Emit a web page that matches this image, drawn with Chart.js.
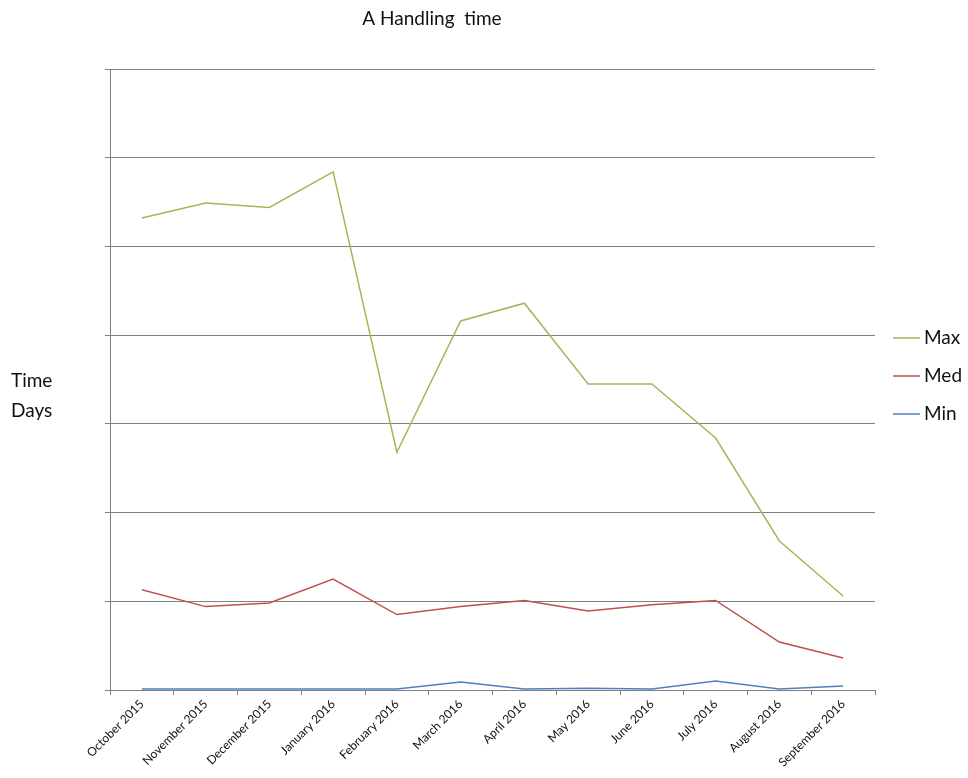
<!DOCTYPE html>
<html>
<head>
<meta charset="utf-8">
<script src="https://cdn.jsdelivr.net/npm/chart.js@4/dist/chart.umd.min.js"></script>
<style>
  html, body { margin: 0; padding: 0; background: #ffffff; }
  #wrap { width: 968px; height: 778px; position: relative; }
</style>
</head>
<body>
<div id="wrap"><canvas id="chart"></canvas></div>
<script>
// Monthly handling time in days
const months = ["October 2015", "November 2015", "December 2015", "January 2016", "February 2016", "March 2016",
                "April 2016", "May 2016", "June 2016", "July 2016", "August 2016", "September 2016"];
const maxDays = [53.2, 54.9, 54.4, 58.4, 26.8, 41.6, 43.6, 34.5, 34.5, 28.4, 16.8, 10.6];
const medDays = [11.3, 9.4, 9.8, 12.5, 8.5, 9.4, 10.1, 8.9, 9.6, 10.1, 5.4, 3.6];
const minDays = [0.1, 0.1, 0.1, 0.1, 0.1, 0.9, 0.1, 0.2, 0.1, 1.0, 0.1, 0.45];
const chartTitle = "A Handling  time";
const axisTitleLines = ["Time", "Days"];

const FONT = "Lato, 'Open Sans', sans-serif";
const GRID = "#808080";

// Title, vertical-axis caption and right-hand legend
const decorations = {
  id: "decorations",
  afterDraw(chart) {
    const ctx = chart.ctx;
    ctx.save();
    ctx.fillStyle = "#111111";
    ctx.textBaseline = "middle";
    ctx.font = "19px " + FONT;
    ctx.textAlign = "center";
    ctx.fillText(chartTitle, 432, 19);

    ctx.font = "19px " + FONT;
    ctx.textAlign = "left";
    axisTitleLines.forEach((t, i) => ctx.fillText(t, 11, 381 + i * 30));

    chart.data.datasets.forEach((ds, i) => {
      const y = 338 + i * 38;
      ctx.strokeStyle = ds.borderColor;
      ctx.lineWidth = 1.5;
      ctx.beginPath();
      ctx.moveTo(893, y);
      ctx.lineTo(920, y);
      ctx.stroke();
      ctx.fillStyle = "#111111";
      ctx.fillText(ds.label, 924, y);
    });
    ctx.restore();
  }
};

new Chart(document.getElementById("chart"), {
  type: "line",
  data: {
    labels: months,
    datasets: [
      { label: "Max", data: maxDays, borderColor: "#9BBB59" },
      { label: "Med", data: medDays, borderColor: "#C0504D" },
      { label: "Min", data: minDays, borderColor: "#4F81BD" }
    ]
  },
  options: {
    responsive: true,
    maintainAspectRatio: false,
    animation: false,
    elements: {
      line: { borderWidth: 1.5, tension: 0, fill: false },
      point: { radius: 0, hoverRadius: 0 }
    },
    layout: { padding: { left: 104, right: 93, top: 69, bottom: 0 } },
    plugins: {
      legend: { display: false },
      title: { display: false },
      tooltip: { enabled: false }
    },
    scales: {
      x: {
        offset: true,
        grid: { offset: true, drawOnChartArea: false, drawTicks: true, tickLength: 5, color: GRID, lineWidth: 1 },
        border: { display: true, color: GRID, width: 1 },
        ticks: {
          autoSkip: false,
          maxRotation: 45,
          minRotation: 45,
          padding: 2,
          color: "#111111",
          font: { family: FONT, size: 12 }
        },
        afterFit(scale) { scale.height = 88; }
      },
      y: {
        min: 0,
        max: 70,
        ticks: { display: false, stepSize: 10 },
        grid: { color: GRID, lineWidth: 1, drawTicks: true, tickLength: 5 },
        border: { display: true, color: GRID, width: 1 },
        afterFit(scale) { scale.width = 6; }
      }
    }
  },
  plugins: [decorations]
});
</script>
</body>
</html>
